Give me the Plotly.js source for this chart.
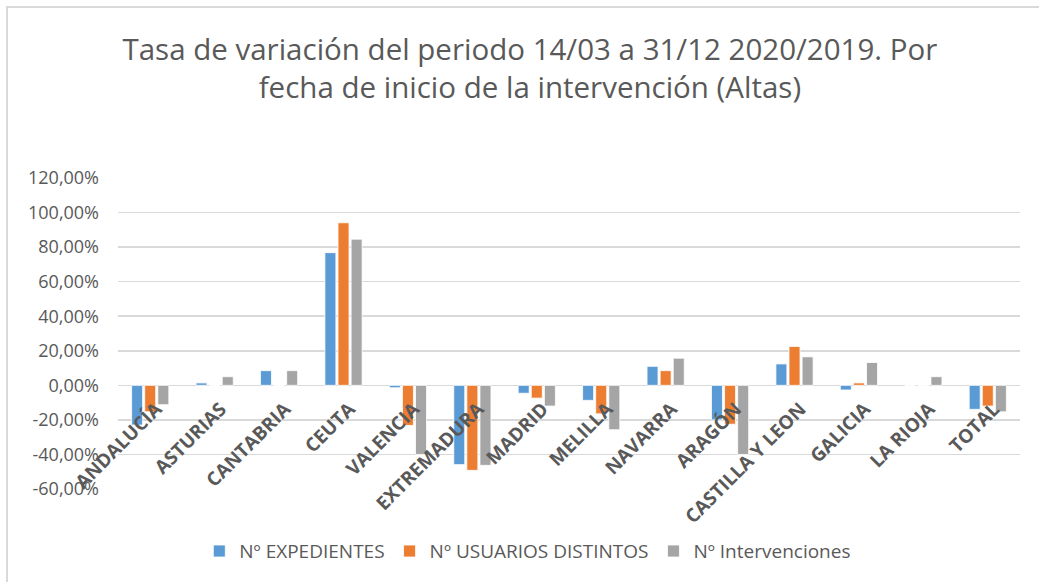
<!DOCTYPE html>
<html>
<head>
<meta charset="utf-8">
<script src="https://cdn.plot.ly/plotly-3.0.1.min.js"></script>
<style>
html,body{margin:0;padding:0;background:#fff;}
#wrap{position:relative;width:1039px;height:582px;overflow:hidden;}
#chart{width:1039px;height:582px;}
#frame{position:absolute;left:6px;top:6px;width:1100px;height:700px;border-left:2px solid #d9d9d9;border-top:2px solid #d9d9d9;pointer-events:none;}
</style>
</head>
<body>
<div id="wrap"><div id="chart"></div><div id="frame"></div></div>
<script>
const categories = ["ANDALUCÍA","ASTURIAS","CANTABRIA","CEUTA","VALENCIA","EXTREMADURA","MADRID","MELILLA","NAVARRA","ARAGÓN","CASTILLA Y LEON","GALICIA","LA RIOJA","TOTAL"];
const expedientes = [-23, 1.4, 8.5, 76.8, -1.4, -45.9, -4.6, -8.7, 11.0, -20, 12.4, -2.7, 0, -13.9];
const usuarios = [-15.3, 0, 0, 94.1, -23.2, -49.2, -7.4, -16.5, 8.5, -22.5, 22.5, 1.4, 0, -12.0];
const intervenciones = [-11.2, 5.0, 8.5, 84.6, -40.0, -46.3, -12.0, -25.7, 15.7, -40.0, 16.5, 13.2, 5.0, -15.3];
const seriesNames = ["Nº EXPEDIENTES","Nº USUARIOS DISTINTOS","Nº Intervenciones"];
const seriesColors = ["#5b9bd5","#ed7d31","#a5a5a5"];
const yTickVals = [-60, -40, -20, 0, 20, 40, 60, 80, 100, 120];
const yTickText = ["-60,00%","-40,00%","-20,00%","0,00%","20,00%","40,00%","60,00%","80,00%","100,00%","120,00%"];
const titleText = "Tasa de variación del periodo 14/03 a 31/12 2020/2019. Por<br>fecha de inicio de la intervención (Altas)";

const allSeries = [expedientes, usuarios, intervenciones];
const traces = allSeries.map((vals, i) => ({
  type: "bar",
  name: seriesNames[i],
  x: categories,
  y: vals,
  marker: {color: seriesColors[i], line: {color: "#ffffff", width: 0.8}},
  hoverinfo: "x+y+name"
}));

const layout = {
  width: 1039,
  height: 582,
  paper_bgcolor: "#ffffff",
  plot_bgcolor: "#ffffff",
  margin: {l: 118, r: 19, t: 178, b: 93},
  title: {
    text: titleText,
    font: {family: "Open Sans", size: 29.5, color: "#595959"},
    x: 0.51, xanchor: "center",
    y: 0.897, yanchor: "middle"
  },
  barmode: "group",
  bargap: 0.39,
  bargroupgap: 0.16,
  xaxis: {
    type: "category",
    anchor: "free",
    position: 1/3,
    showline: false,
    showgrid: false,
    zeroline: false,
    ticks: "",
    tickangle: -45,
    ticklabelshift: 6,
    ticklabelstandoff: 8,
    tickfont: {family: "Open Sans", size: 19, color: "#595959", weight: "bold"},
    automargin: false
  },
  yaxis: {
    range: [-60, 120],
    tickmode: "array",
    tickvals: yTickVals,
    ticktext: yTickText,
    showgrid: true,
    gridcolor: "#d9d9d9",
    gridwidth: 1.5,
    zeroline: true,
    zerolinecolor: "#d9d9d9",
    zerolinewidth: 1.5,
    showline: false,
    ticks: "",
    ticklabelstandoff: 18,
    tickfont: {family: "Open Sans", size: 18, color: "#595959"},
    automargin: false
  },
  legend: {
    orientation: "h",
    xref: "container", yref: "container",
    x: 0.508, xanchor: "center",
    y: 0.053, yanchor: "middle",
    font: {family: "Open Sans", size: 19, color: "#595959"},
    itemwidth: 30,
    traceorder: "normal"
  },
  showlegend: true
};

Plotly.newPlot("chart", traces, layout, {displayModeBar: false, staticPlot: true});
</script>
</body>
</html>
